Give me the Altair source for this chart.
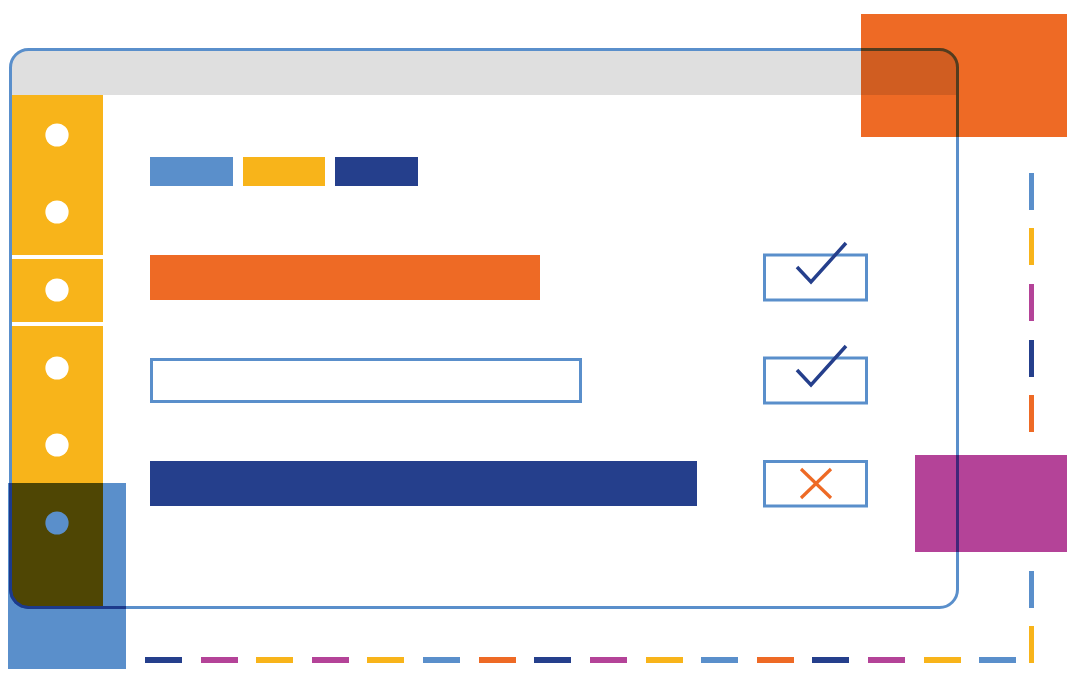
import altair as alt
import pandas as pd

# palette
BLUE = "#5A8FCB"
YELLOW = "#F8B41A"
ORANGE = "#EE6A25"
NAVY = "#253F8C"
MAGENTA = "#B44398"
GREY = "#DFDFDF"
WHITE = "#FFFFFF"
OLIVE = "#4F4604"      # yellow sidebar seen through the blue square
DEEP_NAVY = "#1C3A8C"  # window frame seen through the blue square

# visible page region (page has an 8px margin)
VIEW_X = [8, 1067]
VIEW_Y = [8, 669]

# browser window
frame_x = [10.5]
frame_x2 = [957.5]
frame_y = [49.5]
frame_y2 = [607.5]
titlebar_y2 = [95]

# sidebar segments and dots
side_y = [95, 259, 326]
side_y2 = [255, 322, 608]
side_x = [12]
side_x2 = [103]
dot_x = [57, 57, 57, 57, 57, 57]
dot_y = [135, 212, 290, 368, 445, 523]

# legend swatches
legend_x = [150, 243, 335]
legend_x2 = [233, 325, 418]
legend_colors = [BLUE, YELLOW, NAVY]
legend_y = [157]
legend_y2 = [186]

# bars
bar_x = [150, 150, 150]
bar_x2 = [540, 582, 697]
bar_y = [255, 358, 461]
bar_y2 = [300, 403, 506]
bar_fill = [ORANGE, None, NAVY]

# checkboxes
box_x = [764.5]
box_x2 = [866.5]
box_y = [255, 358, 461.5]
box_y2 = [300, 403, 506]

# check marks (two) and cross
check_x = [797, 811, 846]
check_y1 = [267, 282, 243]
check_y2 = [370, 385, 346]
cross_x = [801, 831]
cross_a = [469, 498]
cross_b = [498, 469]

# decorative overlays
over_x = [861, 915, 0]
over_x2 = [1075, 1075, 126]
over_y = [14, 455, 483]
over_y2 = [137, 552, 677]
over_colors = [ORANGE, MAGENTA, BLUE]

# window corner under the blue square
corner_x = [10.5, 10.5, 11.9, 15.8, 21.6, 28.5, 126]
corner_y = [483, 589.5, 596.4, 602.2, 606.1, 607.5, 607.5]

# dashed lines
hdash_x = [145, 201, 256, 312, 367, 423, 479, 534, 590, 646, 701, 757, 812, 868, 924, 979]
hdash_colors = [NAVY, MAGENTA, YELLOW, MAGENTA, YELLOW, BLUE, ORANGE, NAVY,
                MAGENTA, YELLOW, BLUE, ORANGE, NAVY, MAGENTA, YELLOW, BLUE]
hdash_len = 37
hdash_y = [657, 663]
vdash_y = [173, 228, 284, 340, 395, 571, 626]
vdash_colors = [BLUE, YELLOW, MAGENTA, NAVY, ORANGE, BLUE, YELLOW]
vdash_len = 37
vdash_x = [1029, 1034]

xs = alt.Scale(domain=VIEW_X, nice=False, zero=False, clamp=True)
ys = alt.Scale(domain=VIEW_Y, nice=False, zero=False, reverse=True, clamp=True)


def rect_layer(df, **mark):
    return alt.Chart(df).mark_rect(**mark).encode(
        x=alt.X("x:Q", scale=xs, axis=None),
        x2="x2:Q",
        y=alt.Y("y:Q", scale=ys, axis=None),
        y2="y2:Q",
        color=alt.Color("c:N", scale=None),
    )


def outline_layer(df, **mark):
    return alt.Chart(df).mark_rect(filled=False, stroke=BLUE, strokeWidth=3, **mark).encode(
        x=alt.X("x:Q", scale=xs, axis=None), x2="x2:Q",
        y=alt.Y("y:Q", scale=ys, axis=None), y2="y2:Q",
    )


def dots_layer(df, color):
    return alt.Chart(df).mark_circle(size=540, color=color, opacity=1).encode(
        x=alt.X("x:Q", scale=xs, axis=None), y=alt.Y("y:Q", scale=ys, axis=None)
    )


layers = []

# title bar
tb = pd.DataFrame({"x": frame_x, "x2": frame_x2, "y": frame_y, "y2": titlebar_y2, "c": [GREY]})
layers.append(rect_layer(tb, cornerRadiusTopLeft=18, cornerRadiusTopRight=18))

# sidebar
sb = pd.DataFrame({"x": side_x * 2, "x2": side_x2 * 2, "y": side_y[:2], "y2": side_y2[:2], "c": [YELLOW] * 2})
layers.append(rect_layer(sb))
sb2 = pd.DataFrame({"x": side_x, "x2": side_x2, "y": side_y[2:], "y2": side_y2[2:], "c": [YELLOW]})
layers.append(rect_layer(sb2, cornerRadiusBottomLeft=18))

layers.append(dots_layer(pd.DataFrame({"x": dot_x, "y": dot_y}), WHITE))

# legend swatches
lg = pd.DataFrame({"x": legend_x, "x2": legend_x2, "y": legend_y * 3, "y2": legend_y2 * 3, "c": legend_colors})
layers.append(rect_layer(lg))

# filled bars
fb = pd.DataFrame({"x": [bar_x[0], bar_x[2]], "x2": [bar_x2[0], bar_x2[2]],
                   "y": [bar_y[0], bar_y[2]], "y2": [bar_y2[0], bar_y2[2]],
                   "c": [bar_fill[0], bar_fill[2]]})
layers.append(rect_layer(fb))
# outlined bar
ob = pd.DataFrame({"x": [bar_x[1] + 1.5], "x2": [bar_x2[1] - 1.5], "y": [bar_y[1] + 1.5], "y2": [bar_y2[1] - 1.5]})
layers.append(outline_layer(ob))

# checkboxes
bx = pd.DataFrame({"x": [box_x[0]] * 3, "x2": [box_x2[0]] * 3, "y": box_y, "y2": box_y2})
layers.append(outline_layer(bx))

# check marks
ck = pd.DataFrame({
    "x": check_x * 2,
    "y": check_y1 + check_y2,
    "g": ["a"] * 3 + ["b"] * 3,
    "o": [0, 1, 2] * 2,
})
layers.append(
    alt.Chart(ck).mark_line(color=NAVY, strokeWidth=3.5, strokeCap="butt", strokeJoin="miter").encode(
        x=alt.X("x:Q", scale=xs, axis=None), y=alt.Y("y:Q", scale=ys, axis=None),
        detail="g:N", order="o:Q",
    )
)

# cross
cr = pd.DataFrame({"x": cross_x * 2, "y": cross_a + cross_b, "g": ["a", "a", "b", "b"], "o": [0, 1, 0, 1]})
layers.append(
    alt.Chart(cr).mark_line(color=ORANGE, strokeWidth=3.2, strokeCap="butt").encode(
        x=alt.X("x:Q", scale=xs, axis=None), y=alt.Y("y:Q", scale=ys, axis=None),
        detail="g:N", order="o:Q",
    )
)

# window frame
fr = pd.DataFrame({"x": frame_x, "x2": frame_x2, "y": frame_y, "y2": frame_y2})
layers.append(outline_layer(fr, cornerRadius=18))

# overlays (multiply blended)
ov = pd.DataFrame({"x": over_x, "x2": over_x2, "y": over_y, "y2": over_y2, "c": over_colors})
layers.append(rect_layer(ov, blend="multiply"))

# sidebar and frame seen through the blue square
ol = pd.DataFrame({"x": side_x, "x2": side_x2, "y": [over_y[2]], "y2": [side_y2[2]], "c": [OLIVE]})
layers.append(rect_layer(ol, cornerRadiusBottomLeft=18))
layers.append(dots_layer(pd.DataFrame({"x": dot_x[-1:], "y": dot_y[-1:]}), BLUE))
cn = pd.DataFrame({"x": corner_x, "y": corner_y, "o": list(range(len(corner_x)))})
layers.append(
    alt.Chart(cn).mark_line(color=DEEP_NAVY, strokeWidth=3, strokeCap="butt", strokeJoin="round").encode(
        x=alt.X("x:Q", scale=xs, axis=None), y=alt.Y("y:Q", scale=ys, axis=None), order="o:Q",
    )
)

# dashes
hd = pd.DataFrame({"x": hdash_x, "x2": [v + hdash_len for v in hdash_x],
                   "y": [hdash_y[0]] * len(hdash_x), "y2": [hdash_y[1]] * len(hdash_x), "c": hdash_colors})
layers.append(rect_layer(hd))
vd = pd.DataFrame({"x": [vdash_x[0]] * len(vdash_y), "x2": [vdash_x[1]] * len(vdash_y),
                   "y": vdash_y, "y2": [v + vdash_len for v in vdash_y], "c": vdash_colors})
layers.append(rect_layer(vd))

chart = alt.layer(*layers).properties(
    width=VIEW_X[1] - VIEW_X[0],
    height=VIEW_Y[1] - VIEW_Y[0],
    padding=0,
    autosize=alt.AutoSizeParams(type="none"),
    background=WHITE,
).configure_view(stroke=None)

chart.save("out.html", embed_options={"renderer": "svg", "actions": False})
